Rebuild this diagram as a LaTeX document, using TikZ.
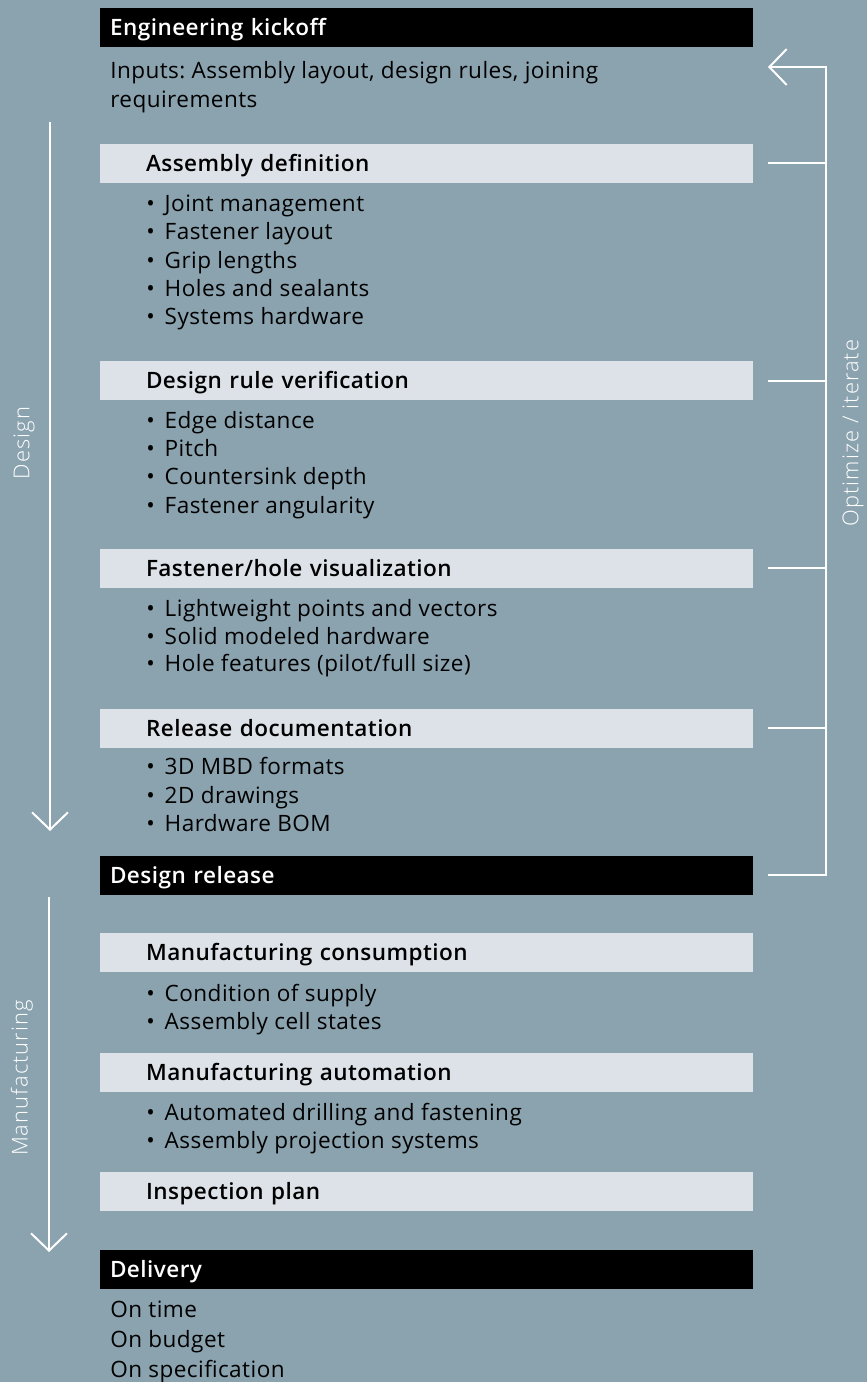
\documentclass[tikz,border=0pt]{standalone}
\usepackage{fontspec}
\setmainfont{Open Sans}[LetterSpace=2, BoldFont={Open Sans Semibold}]
\newfontfamily\sidefont{Open Sans Light}[LetterSpace=5]
\usetikzlibrary{arrows.meta}
\definecolor{bgblue}{HTML}{8BA3AF}
\definecolor{barlight}{HTML}{DCE2E8}
\newcommand{\itembul}{•\hspace{7.5pt}}
\frenchspacing
\tikzset{%
>={Straight Barb[length=13pt,width=27pt]},
  % Specifications for style of nodes:
            darkbar/.style = {anchor=west, fill=black, text=white,
                            font=\bfseries\fontsize{16.9}{19}\selectfont,
                            minimum height=29.25pt, inner xsep=7.5pt, inner ysep=0pt,
                            text width=474.75pt, align=left, text height=12pt,
                            text depth=0pt, outer sep=0pt},
            lightbar/.style = {darkbar, fill=barlight, text=black,
                            inner xsep=34.5pt, text width=420.75pt},
            item/.style = {anchor=west, inner sep=0pt, text height=12pt,
                            text depth=0pt, font=\fontsize{16.9}{19}\selectfont},
            side/.style = {rotate=90, inner sep=0pt, text=white,
                            font=\sidefont\fontsize{16.4}{19}\selectfont},
            flow/.style = {draw=white, line width=1.5pt}
}
\begin{document}
\begin{tikzpicture}[x=0.75pt, y=-0.75pt]
                        \path[use as bounding box, fill=bgblue] (0,0) rectangle (867,1382);
                        \node[darkbar] (kickoff) at (100,27) {Engineering kickoff};
                        \node[item] (input1) at (110,70.5) {Inputs: Assembly layout, design rules, joining};
                        \node[item] (input2) at (110,99.5) {requirements};
                        \node[lightbar] (adef) at (100,163) {Assembly definition};
                        \node[item] (adef1) at (146,203) {\itembul Joint management};
                        \node[item] (adef2) at (146,231.5) {\itembul Fastener layout};
                        \node[item] (adef3) at (146,260) {\itembul Grip lengths};
                        \node[item] (adef4) at (146,288) {\itembul Holes and sealants};
                        \node[item] (adef5) at (146,316.5) {\itembul Systems hardware};
                        \node[lightbar] (drv) at (100,380.5) {Design rule verification};
                        \node[item] (drv1) at (146,420) {\itembul Edge distance};
                        \node[item] (drv2) at (146,448) {\itembul Pitch};
                        \node[item] (drv3) at (146,476.5) {\itembul Countersink depth};
                        \node[item] (drv4) at (146,505) {\itembul Fastener angularity};
                        \node[lightbar] (fhv) at (100,568) {Fastener/hole visualization};
                        \node[item] (fhv1) at (146,608) {\itembul Lightweight points and vectors};
                        \node[item] (fhv2) at (146,636) {\itembul Solid modeled hardware};
                        \node[item] (fhv3) at (146,663.5) {\itembul Hole features (pilot/full size)};
                        \node[lightbar] (reldoc) at (100,728) {Release documentation};
                        \node[item] (reldoc1) at (146,766.5) {\itembul 3D MBD formats};
                        \node[item] (reldoc2) at (146,795) {\itembul 2D drawings};
                        \node[item] (reldoc3) at (146,823) {\itembul Hardware BOM};
                        \node[darkbar] (release) at (100,875) {Design release};
                        \node[lightbar] (mcons) at (100,952.5) {Manufacturing consumption};
                        \node[item] (mcons1) at (146,993) {\itembul Condition of supply};
                        \node[item] (mcons2) at (146,1021) {\itembul Assembly cell states};
                        \node[lightbar] (mauto) at (100,1072.5) {Manufacturing automation};
                        \node[item] (mauto1) at (146,1112) {\itembul Automated drilling and fastening};
                        \node[item] (mauto2) at (146,1140) {\itembul Assembly projection systems};
                        \node[lightbar] (insp) at (100,1191.5) {Inspection plan};
                        \node[darkbar] (delivery) at (100,1269.5) {Delivery};
                        \node[item] (deliv1) at (110,1309) {On time};
                        \node[item] (deliv2) at (110,1339) {On budget};
                        \node[item] (deliv3) at (110,1369) {On specification};
                        \node[side] (designlbl) at (24,443) {Design};
                        \node[side] (mfglbl) at (22,1078) {Manufacturing};
                        \node[side] (iterlbl) at (853,433) {Optimize / iterate};
                        \coordinate (rail) at (826,67);
                        \coordinate (dtop) at (50,122);
                        \coordinate (dend) at (50,831);
                        \coordinate (mtop) at (49,897);
                        \coordinate (mend) at (49,1252);
                        \draw[flow,->] (dtop)--(dend);
                        \draw[flow,->] (mtop)--(mend);
                        \draw[flow] ([xshift=11.25pt]adef.east)--(adef.east -| rail);
                        \draw[flow] ([xshift=11.25pt]drv.east)--(drv.east -| rail);
                        \draw[flow] ([xshift=11.25pt]fhv.east)--(fhv.east -| rail);
                        \draw[flow] ([xshift=11.25pt]reldoc.east)--(reldoc.east -| rail);
                        \draw[flow,->] ([xshift=11.25pt]release.east) -| (rail)
                              -- ([xshift=11.25pt]kickoff.east |- rail);
                    \end{tikzpicture}
\end{document}
